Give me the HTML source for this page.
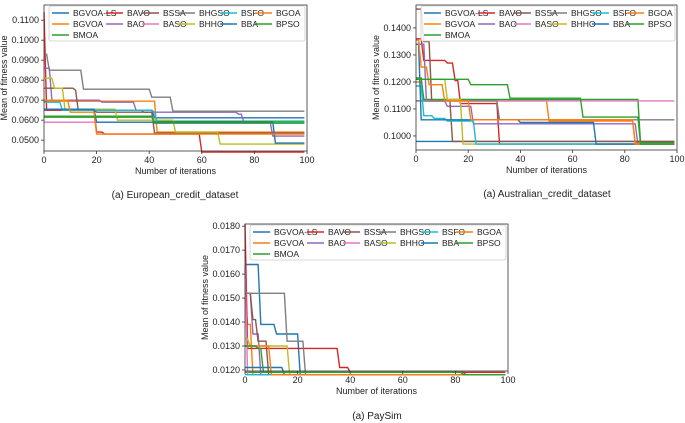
<!DOCTYPE html>
<html><head><meta charset="utf-8"><style>
body{margin:0;background:#fff;width:685px;height:423px;overflow:hidden;font-family:"Liberation Sans","DejaVu Sans",sans-serif}
svg{position:absolute;left:0;top:0}
</style></head><body>
<svg id="fig" width="685" height="423"></svg>
<script>
const names=["BGVOA-LS","BGVOA","BMOA","BAVO","BAO","BSSA","BASO","BHGSO","BHHO","BSFO","BBA","BGOA","BPSO"];
const colors=["#1f77b4","#ff7f0e","#2ca02c","#d62728","#9467bd","#8c564b","#e377c2","#7f7f7f","#bcbd22","#17becf","#1f77b4","#ff7f0e","#2ca02c"];
const xTicks=[0,20,40,60,80,100];
// step breakpoints [iteration,value]
const euroSeries=[
[[0,0.065],[42,0.0612]],
[[0,0.0695],[43,0.054]],
[[0,0.062],[42,0.0595]],
[[0,0.114],[1,0.065],[20,0.054],[23,0.053],[60,0.044]],
[[0,0.086],[3,0.070],[22,0.069],[35,0.065],[38,0.064],[74,0.063],[76,0.059],[87,0.052]],
[[0,0.076],[12,0.075],[13,0.065],[20,0.064],[42,0.0535]],
[[0,0.059]],
[[0,0.093],[2,0.085],[15,0.0755],[41,0.0715],[49,0.0645]],
[[0,0.081],[4,0.076],[8,0.0655],[28,0.060],[50,0.054],[67,0.048]],
[[0,0.069],[7,0.065],[42,0.064],[43,0.059]],
[[0,0.0655],[20,0.059],[88,0.0485]],
[[0,0.070],[10,0.064],[20,0.053]],
[[0,0.0615],[42,0.0585]]];
const euroTicks=[0.05,0.06,0.07,0.08,0.09,0.10,0.11];
const ausSeries=[
[[0,0.098]],
[[0,0.120],[3,0.113],[51,0.1055],[84,0.0975]],
[[0,0.1215],[3,0.1135],[86,0.0975]],
[[0,0.136],[3,0.128],[12,0.127],[15,0.1205],[17,0.112],[32,0.097]],
[[0,0.134],[4,0.113],[12,0.111],[22,0.1045],[85,0.097]],
[[0,0.147],[3,0.135],[6,0.113],[14,0.098]],
[[0,0.113]],
[[0,0.113],[32,0.106]],
[[0,0.121],[12,0.1135],[18,0.097]],
[[0,0.1185],[3,0.1075],[7,0.1065],[12,0.1055],[23,0.097]],
[[0,0.134],[2,0.106],[40,0.105],[69,0.097]],
[[0,0.1355],[2,0.1255],[5,0.119],[11,0.113],[21,0.106],[84,0.097]],
[[0,0.121],[21,0.119],[36,0.114],[64,0.107],[86,0.097]]];
const ausTicks=[0.10,0.11,0.12,0.13,0.14];
const payTicks=[0.012,0.013,0.014,0.015,0.016,0.017,0.018];
const paySeries=[
[[0,0.0164],[6,0.0139],[12,0.0135],[21,0.0118]],
[[0,0.0150],[1,0.0139],[3,0.0118]],
[[0,0.0119],[84,0.0118]],
[[0,0.0181],[1,0.0129],[36,0.0121],[40,0.0119]],
[[0,0.0152],[3,0.0135],[6,0.0118]],
[[0,0.0152],[3,0.0141],[5,0.0132],[9,0.0118]],
[[0,0.0163],[1,0.0118]],
[[0,0.0152],[16,0.0132],[23,0.0118]],
[[0,0.0133],[2,0.0130],[17,0.0118]],
[[0,0.0118]],
[[0,0.0121],[15,0.0118]],
[[0,0.0130],[10,0.0118]],
[[0,0.0130],[5,0.0129],[7,0.0119],[83,0.0118]]];
const NS="http://www.w3.org/2000/svg";
const fig=document.getElementById('fig');
function mk(t,a,p){const e=document.createElementNS(NS,t);for(const k in a)e.setAttribute(k,a[k]);(p||fig).appendChild(e);return e;}
function chart(id,L,R,T,B,ymin,ymax,ticks,dec,series,caption,cx,cy){
  const g=mk('g',{});
  
  
  const xs=v=>L+(R-L)*v/100, ys=v=>B-(B-T)*(v-ymin)/(ymax-ymin);
  series.forEach((s,i)=>{
    let pts=[];
    for(let it=0;it<100;it++){let v=s[0][1];for(const b of s)if(b[0]<=it)v=b[1];pts.push(xs(it).toFixed(1)+','+ys(v).toFixed(1));}
    const p=mk('polyline',{points:pts.join(' '),fill:'none',stroke:colors[i],'stroke-width':1.4},g);
    
    
  });
  const fr=mk('rect',{x:L,y:T,width:R-L,height:B-T,fill:'none',stroke:'#333','stroke-width':0.8},g);
  
  
  xTicks.forEach(t=>{const x=xs(t);mk('line',{x1:x,x2:x,y1:B,y2:B+3,stroke:'#333','stroke-width':0.8},g);
    const tx=mk('text',{x:x,y:B+12,'font-size':9,'text-anchor':'middle',fill:'#222'},g);tx.textContent=t;
    
    });
  ticks.forEach(t=>{const y=ys(t);mk('line',{x1:L-3,x2:L,y1:y,y2:y,stroke:'#333','stroke-width':0.8},g);
    const tx=mk('text',{x:L-5,y:y+3,'font-size':9,'text-anchor':'end',fill:'#222'},g);tx.textContent=t.toFixed(dec);
    
    });
  const xl=mk('text',{x:(L+R)/2,y:B+23,'font-size':9,'text-anchor':'middle',fill:'#222'},g);xl.textContent='Number of iterations';
  
  
  const yl=mk('text',{x:0,y:0,'font-size':9,'text-anchor':'middle',fill:'#222',transform:`translate(${L-37},${(T+B)/2}) rotate(-90)`},g);yl.textContent='Mean of fitness value';
  
  
  const cp=mk('text',{x:cx,y:cy,'font-size':10,'text-anchor':'middle',fill:'#222'},g);cp.textContent=caption;
  
  
  // legend
  const lx=L+5, ly=T+1;
  const lg=mk('rect',{x:lx,y:ly,width:R-L-7,height:35,fill:'#fff','fill-opacity':0.85,stroke:'#ccc','stroke-width':0.8,rx:2},g);
  
  
  const colX=[0,54,90,126,168,203];
  names.forEach((n,i)=>{let c,r;if(i<3){c=0;r=i;}else{c=1+Math.floor((i-3)/2);r=(i-3)%2;}
    const x=lx+3+colX[c], y=ly+7+r*11;
    mk('line',{x1:x,x2:x+17,y1:y,y2:y,stroke:colors[i],'stroke-width':1.6},g);
    const t=mk('text',{x:x+21,y:y+3,'font-size':8.5,fill:'#222'},g);t.textContent=n;
    
    });
}
chart('chart-european',44,307,5,151,0.04457,0.1176,euroTicks,4,euroSeries,'(a) European_credit_dataset',175,198);
chart('chart-australian',416,677,5,150,0.0948,0.1485,ausTicks,4,ausSeries,'(a) Australian_credit_dataset',547,197);
chart('chart-paysim',245,508,224,371,0.011956,0.01809,payTicks,4,paySeries,'(a) PaySim',377,419);
</script>
</body></html>
